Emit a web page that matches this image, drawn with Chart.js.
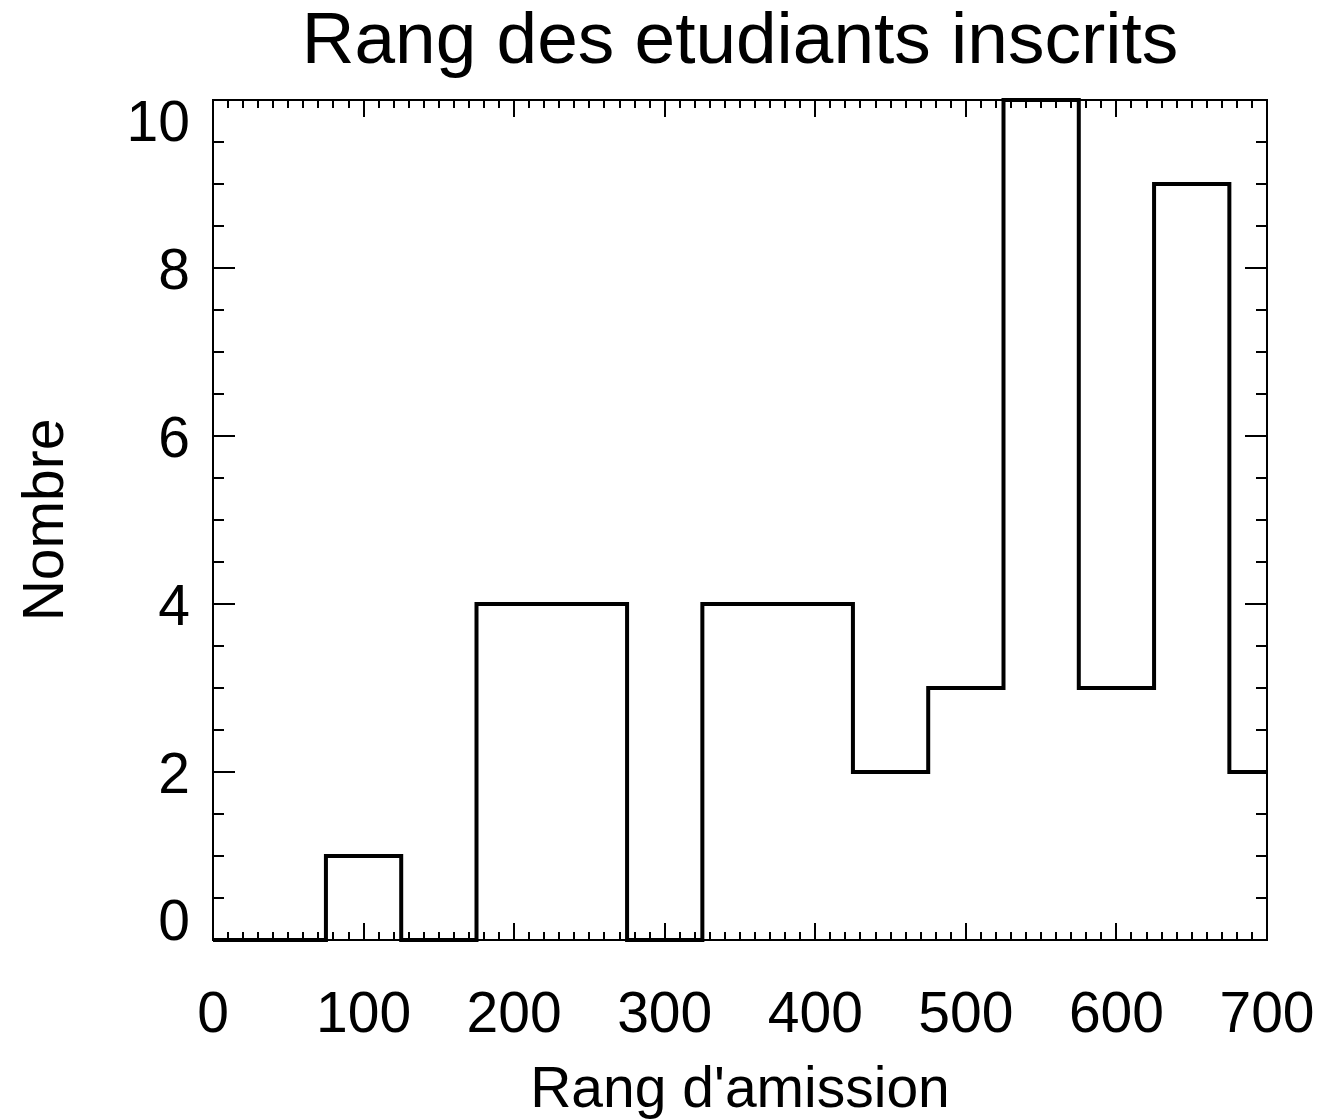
<!DOCTYPE html>
<html>
<head>
<meta charset="utf-8">
<script src="https://cdn.jsdelivr.net/npm/chart.js@4/dist/chart.umd.min.js"></script>
<style>
    body { margin: 0; background: #fff; }
    canvas { display: block; }
</style>
</head>
<body>
<canvas id="chartRang" width="1321" height="1119"></canvas>
<script>
const binCenters = [0, 50, 100, 150, 200, 250, 300, 350, 400, 450, 500, 550, 600, 650, 700];
const counts = [0, 0, 1, 0, 4, 4, 0, 4, 4, 2, 3, 10, 3, 9, 2];
const xTicks = [0, 100, 200, 300, 400, 500, 600, 700];
const yTicks = [0, 2, 4, 6, 8, 10];
const xMinorStep = 10;
const yMinorStep = 0.5;

const FONT = '"Liberation Sans", Arial, Helvetica, sans-serif';

// IDL-style box with inward ticks on every side, labels clamped inside the axis range
const idlAxes = {
    id: 'idlAxes',
    afterDraw(chart) {
        const ctx = chart.ctx;
        const area = chart.chartArea;
        const xs = chart.scales.x;
        const ys = chart.scales.y;

        ctx.save();
        ctx.strokeStyle = '#000';
        ctx.lineWidth = 2;
        ctx.strokeRect(area.left, area.top, area.right - area.left, area.bottom - area.top);

        ctx.beginPath();
        for (let v = xs.min; v <= xs.max + 1e-9; v += xMinorStep) {
            const px = Math.round(xs.getPixelForValue(v));
            const len = xTicks.includes(Math.round(v)) ? 17 : 8;
            ctx.moveTo(px, area.bottom); ctx.lineTo(px, area.bottom - len);
            ctx.moveTo(px, area.top); ctx.lineTo(px, area.top + len);
        }
        for (let v = ys.min; v <= ys.max + 1e-9; v += yMinorStep) {
            const py = Math.round(ys.getPixelForValue(v));
            const len = yTicks.includes(v) ? 22 : 11;
            ctx.moveTo(area.left, py); ctx.lineTo(area.left + len, py);
            ctx.moveTo(area.right, py); ctx.lineTo(area.right - len, py);
        }
        ctx.stroke();

        ctx.fillStyle = '#000';
        ctx.font = '57px ' + FONT;
        ctx.textBaseline = 'alphabetic';

        ctx.textAlign = 'center';
        xTicks.forEach(v => {
            ctx.fillText(String(v), xs.getPixelForValue(v), 1032);
        });

        const capH = 41;
        ctx.textAlign = 'right';
        yTicks.forEach(v => {
            let base = ys.getPixelForValue(v) + capH / 2;
            base = Math.min(Math.max(base, area.top + capH), area.bottom);
            ctx.fillText(String(v), 190, base);
        });

        const cx = (area.left + area.right) / 2;
        ctx.textAlign = 'center';
        ctx.fillText("Rang d'amission", cx, 1107);

        ctx.save();
        ctx.translate(63, (area.top + area.bottom) / 2);
        ctx.rotate(-Math.PI / 2);
        ctx.fillText('Nombre', 0, 0);
        ctx.restore();

        ctx.font = '73px ' + FONT;
        ctx.fillText('Rang des etudiants inscrits', cx, 63);
        ctx.restore();
    }
};

new Chart(document.getElementById('chartRang'), {
    type: 'line',
    data: {
        datasets: [{
            data: binCenters.map((x, i) => ({ x: x, y: counts[i] })),
            stepped: 'middle',
            borderColor: '#000',
            borderWidth: 4,
            pointRadius: 0,
            fill: false,
            clip: false
        }]
    },
    options: {
        responsive: false,
        animation: false,
        devicePixelRatio: 1,
        layout: {
            padding: { left: 213, right: 54, top: 100, bottom: 179 }
        },
        plugins: {
            legend: { display: false },
            tooltip: { enabled: false }
        },
        scales: {
            x: { type: 'linear', min: 0, max: 700, display: false },
            y: { type: 'linear', min: 0, max: 10, display: false }
        }
    },
    plugins: [idlAxes]
});
</script>
</body>
</html>
